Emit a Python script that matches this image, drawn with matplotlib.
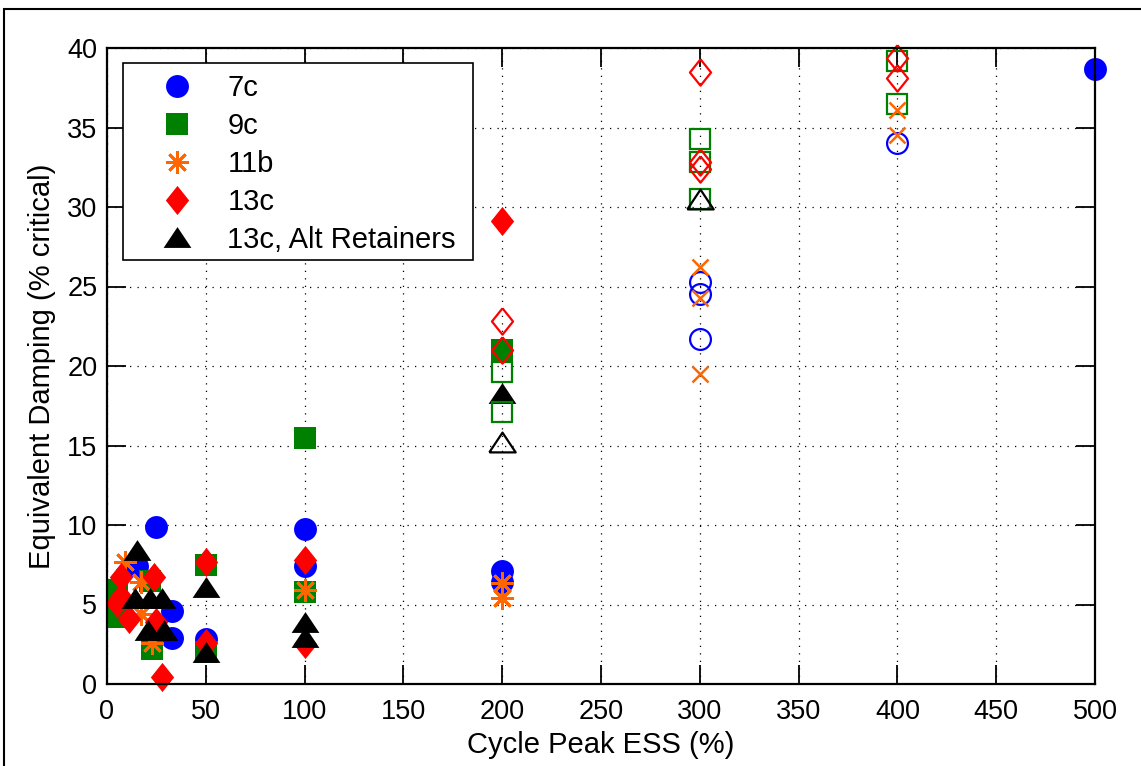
import matplotlib
matplotlib.use('Agg')
import matplotlib.pyplot as plt
from matplotlib.patches import Rectangle

plt.rcParams['font.family'] = ['Liberation Sans', 'DejaVu Sans']

# 7c
x_7c = [15, 25, 33, 33, 50, 100, 100, 200, 200, 500]
y_7c = [7.4, 9.9, 4.6, 2.9, 2.8, 9.75, 7.4, 7.1, 6.4, 38.7]
x_7c_open = [300, 300, 300, 400]
y_7c_open = [25.3, 24.5, 21.7, 34.0]

# 9c
x_9c = [5, 5, 22, 23, 50, 50, 100, 100, 200]
y_9c = [5.9, 4.2, 6.5, 2.2, 7.5, 2.0, 5.8, 15.45, 21.0]
x_9c_open = [200, 200, 300, 300, 300, 400, 400]
y_9c_open = [19.6, 17.1, 34.3, 32.8, 30.5, 39.2, 36.5]

# 11b
x_11b = [9, 17, 17, 23, 100, 200, 200]
y_11b = [7.7, 6.4, 4.4, 2.6, 5.9, 6.35, 5.4]
x_11b_open = [300, 300, 300, 400, 400]
y_11b_open = [26.2, 24.3, 19.5, 36.1, 34.5]

# 13c
x_13c = [5, 7, 7, 11, 24, 25, 28, 50, 50, 100, 100, 200]
y_13c = [5.1, 6.7, 5.5, 4.1, 6.7, 3.9, 0.45, 7.7, 2.6, 7.8, 2.5, 29.1]
x_13c_open = [200, 200, 300, 300, 300, 400, 400]
y_13c_open = [22.8, 21.0, 38.5, 32.8, 32.4, 39.4, 38.1]

# 13c, Alt Retainers
x_alt = [15, 14, 22, 28, 21, 29, 50, 50, 100, 100, 200]
y_alt = [8.4, 5.4, 5.4, 5.4, 3.4, 3.4, 6.1, 2.0, 3.9, 2.95, 18.3]
x_alt_open = [200, 300]
y_alt_open = [15.2, 30.5]

diamond = [(0, 1), (0.8, 0), (0, -1), (-0.8, 0), (0, 1)]
triangle = [(-1, -0.75), (1, -0.75), (0, 0.75), (-1, -0.75)]
asterisk = (8, 2, 0)
orange = '#ff6600'
green = '#008000'

fig = plt.figure(figsize=(11.41, 7.66), dpi=100)
ax = fig.add_axes([107 / 1141, 82 / 766, 988 / 1141, 636 / 766])

# filled points (in legend)
ax.plot(x_7c, y_7c, 'o', color='b', ms=16.5, mew=0, label='7c', clip_on=False)
ax.plot(x_9c, y_9c, 's', color=green, ms=15.5, mew=0, label='9c', clip_on=False)
ax.plot(x_11b, y_11b, marker=asterisk, ls='none', color=orange, ms=16.5, mew=2,
        label='11b', clip_on=False)
ax.plot(x_13c, y_13c, marker=diamond, ls='none', color='r', ms=21, mew=0,
        label='13c', clip_on=False)
ax.plot(x_alt, y_alt, marker=triangle, ls='none', color='k', ms=20, mew=0,
        label='13c, Alt Retainers', clip_on=False)

# open points
ax.plot(x_7c_open, y_7c_open, 'o', mfc='none', mec='b', ms=15, mew=1.6, clip_on=False)
ax.plot(x_9c_open, y_9c_open, 's', mfc='none', mec=green, ms=14, mew=1.6, clip_on=False)
ax.plot(x_11b_open, y_11b_open, 'x', color=orange, ms=12, mew=1.8, clip_on=False)
ax.plot(x_13c_open, y_13c_open, marker=diamond, ls='none', mfc='none', mec='r',
        ms=19, mew=1.6, clip_on=False)
ax.plot(x_alt_open, y_alt_open, marker=triangle, ls='none', mfc='none', mec='k',
        ms=19, mew=1.6, clip_on=False)

ax.set_xlim(0, 500)
ax.set_ylim(0, 40)
ax.set_xticks(range(0, 501, 50))
ax.set_yticks(range(0, 41, 5))
ax.set_axisbelow(True)
ax.grid(True, color='k', linestyle=(0, (1, 5)), linewidth=0.9)
ax.tick_params(direction='in', length=14, width=1.3, top=True, right=True,
               labelsize=19.5, colors='k')
ax.tick_params(axis='x', pad=11)
ax.tick_params(axis='y', pad=7)
for s in ax.spines.values():
    s.set_linewidth(1.6)

ax.set_xlabel('Cycle Peak ESS (%)', fontsize=21, labelpad=4)
ax.set_ylabel('Equivalent Damping (% critical)', fontsize=21, labelpad=8)

# legend box drawn by hand, matlab style
ax.add_patch(Rectangle((16 / 988, 1 - 212 / 636), 350 / 988, 197 / 636,
                       transform=ax.transAxes, facecolor='white', edgecolor='k',
                       linewidth=1.2, zorder=4.5, clip_on=False))
ax.legend(loc='upper left', bbox_to_anchor=(41 / 988, 1 - 26 / 636), frameon=False,
          fontsize=21, borderpad=0, borderaxespad=0, handlelength=2.0,
          handletextpad=0.72, labelspacing=0.34, numpoints=1)

# outer frame
fig.add_artist(Rectangle((4 / 1141, -0.5), 2, 0.5 + 1 - 9 / 766, transform=fig.transFigure,
                         fill=False, edgecolor='k', linewidth=1.5, clip_on=False))

fig.savefig('out.png', dpi=100)
